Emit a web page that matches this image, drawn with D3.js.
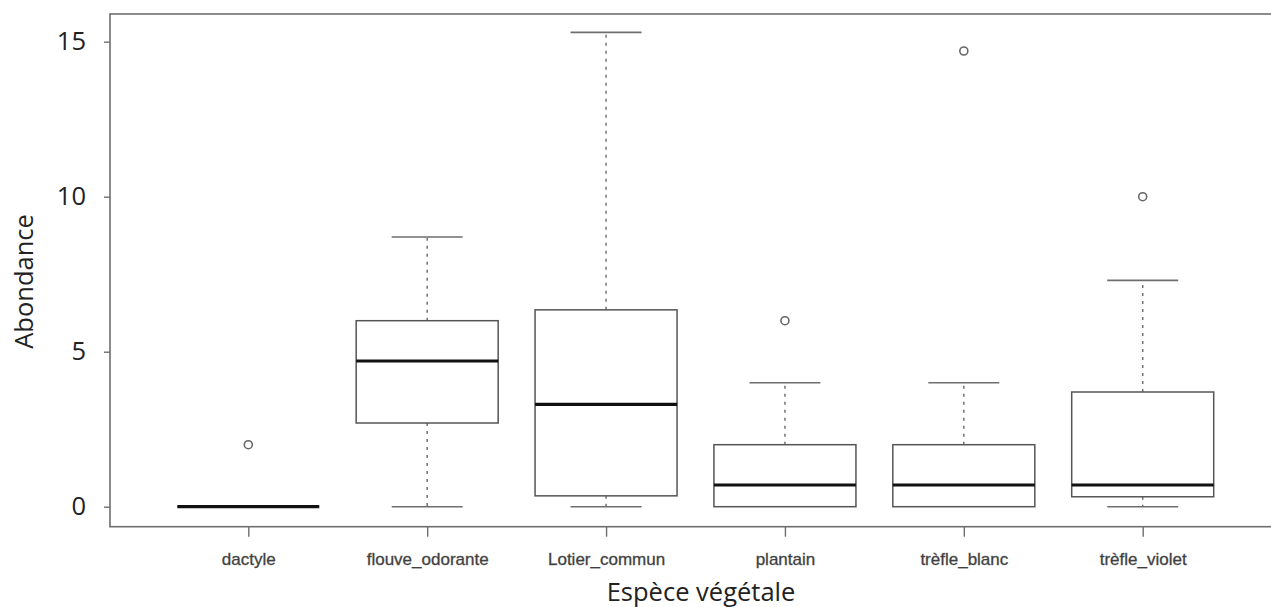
<!DOCTYPE html>
<html><head><meta charset="utf-8">
<script src="https://cdn.jsdelivr.net/npm/d3@7"></script>
<style>body{margin:0;background:#fff;} svg{display:block;}</style>
</head><body>
<svg id="c" width="1271" height="607"></svg>
<script>
const categories = ["dactyle","flouve_odorante","Lotier_commun","plantain","trèfle_blanc","trèfle_violet"];
const whiskerLow  = [0, 0, 0, 0, 0, 0];
const q1          = [0, 2.7, 0.35, 0, 0, 0.32];
const median      = [0, 4.7, 3.3, 0.7, 0.7, 0.7];
const q3          = [0, 6, 6.35, 2, 2, 3.7];
const whiskerHigh = [0, 8.7, 15.3, 4, 4, 7.3];
const outliers    = [[2], [], [], [6], [14.7], [10]];
const yTicks = [0, 5, 10, 15];

const svg = d3.select("#c");
const x = d3.scaleLinear().domain([1, 6]).range([248.3, 1142.7]);
const y = d3.scaleLinear().domain([0, 15]).range([506.7, 41.7]);
const frameL = 110, frameT = 14, frameB = 526.7, frameR = 1276;
const halfW = 71;

// frame
svg.append("rect").attr("x", frameL).attr("y", frameT)
  .attr("width", frameR - frameL).attr("height", frameB - frameT)
  .attr("fill", "none").attr("stroke", "#6e6e6e").attr("stroke-width", 1.6);

// y axis
const yAxis = d3.axisLeft(y).tickValues(yTicks).tickSize(6).tickPadding(18).tickFormat(d3.format("d"));
const gy = svg.append("g").attr("transform", `translate(${frameL},0)`).call(yAxis);
gy.select(".domain").remove();
gy.selectAll(".tick line").attr("stroke", "#6e6e6e").attr("stroke-width", 1.4);
gy.selectAll(".tick text").attr("font-family", "'Open Sans', sans-serif").attr("font-size", 25.5).attr("fill", "#222");

// x axis
const xAxis = d3.axisBottom(x).tickValues(d3.range(1, 7)).tickSize(10).tickPadding(16)
  .tickFormat(i => categories[i - 1]);
const gx = svg.append("g").attr("transform", `translate(0,${frameB})`).call(xAxis);
gx.select(".domain").remove();
gx.selectAll(".tick line").attr("stroke", "#6e6e6e").attr("stroke-width", 1.4);
gx.selectAll(".tick text").attr("font-family", "'Liberation Sans', Arial, sans-serif")
  .attr("font-size", 17).attr("fill", "#3a3a3a").attr("stroke", "#555").attr("stroke-width", 0.35);

const data = categories.map((c, i) => ({i: i + 1, lo: whiskerLow[i], q1: q1[i], med: median[i], q3: q3[i], hi: whiskerHigh[i], out: outliers[i]}));

const g = svg.append("g");
data.forEach(d => {
  const cx = x(d.i);
  const grp = g.append("g");
  // whiskers (dashed)
  if (d.hi > d.q3) grp.append("line").attr("x1", cx).attr("x2", cx).attr("y1", y(d.q3)).attr("y2", y(d.hi))
    .attr("stroke", "#666").attr("stroke-width", 1.4).attr("stroke-dasharray", "3,5");
  if (d.lo < d.q1) grp.append("line").attr("x1", cx).attr("x2", cx).attr("y1", y(d.q1)).attr("y2", y(d.lo))
    .attr("stroke", "#666").attr("stroke-width", 1.4).attr("stroke-dasharray", "3,5");
  // caps
  if (d.hi > d.q3) grp.append("line").attr("x1", cx - halfW / 2).attr("x2", cx + halfW / 2).attr("y1", y(d.hi)).attr("y2", y(d.hi))
    .attr("stroke", "#6e6e6e").attr("stroke-width", 1.6);
  if (d.lo < d.q1) grp.append("line").attr("x1", cx - halfW / 2).attr("x2", cx + halfW / 2).attr("y1", y(d.lo)).attr("y2", y(d.lo))
    .attr("stroke", "#6e6e6e").attr("stroke-width", 1.6);
  // box
  if (d.q3 > d.q1) grp.append("rect").attr("x", cx - halfW).attr("width", 2 * halfW)
    .attr("y", y(d.q3)).attr("height", y(d.q1) - y(d.q3))
    .attr("fill", "#fff").attr("stroke", "#555").attr("stroke-width", 1.5);
  // median
  grp.append("line").attr("x1", cx - halfW).attr("x2", cx + halfW).attr("y1", y(d.med)).attr("y2", y(d.med))
    .attr("stroke", "#111").attr("stroke-width", 3.2);
  // outliers
  d.out.forEach(o => {
    grp.append("circle").attr("cx", cx).attr("cy", y(o)).attr("r", 4)
      .attr("fill", "none").attr("stroke", "#666").attr("stroke-width", 1.6);
  });
});

// axis titles
svg.append("text").attr("x", 701).attr("y", 601).attr("text-anchor", "middle")
  .attr("font-family", "'Open Sans', sans-serif").attr("font-size", 25.5).attr("fill", "#222")
  .text("Espèce végétale");
svg.append("text").attr("transform", "translate(33,281.5) rotate(-90)").attr("text-anchor", "middle")
  .attr("font-family", "'Open Sans', sans-serif").attr("font-size", 25.5).attr("fill", "#222")
  .text("Abondance");
</script>
</body></html>
